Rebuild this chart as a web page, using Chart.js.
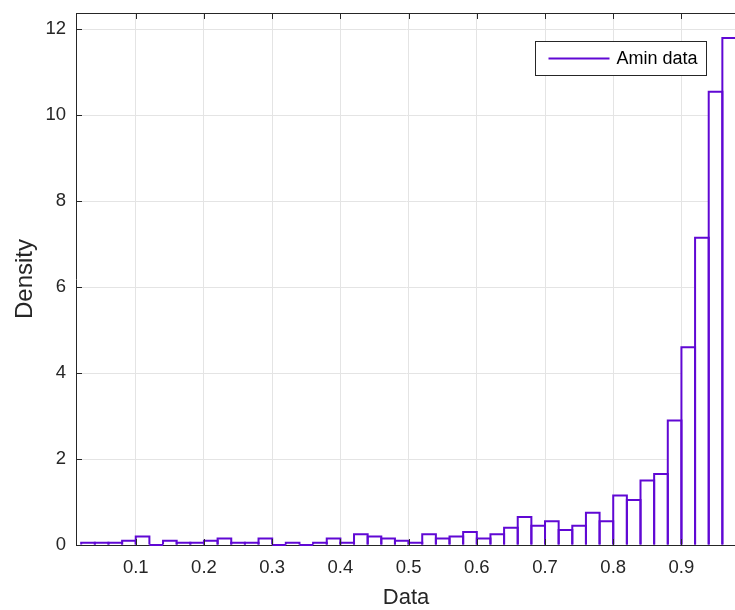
<!DOCTYPE html>
<html><head><meta charset="utf-8">
<script src="https://cdn.jsdelivr.net/npm/chart.js@4"></script>
<style>html,body{margin:0;padding:0;overflow:hidden;background:#fff;width:735px;height:610px}</style>
</head><body>
<canvas id="c" width="760" height="610"></canvas>
<script>
// ---- data ----
const binCenters = [0.03,0.05,0.07,0.09,0.11,0.13,0.15,0.17,0.19,0.21,0.23,0.25,0.27,0.29,0.31,0.33,0.35,0.37,0.39,0.41,0.43,0.45,0.47,0.49,0.51,0.53,0.55,0.57,0.59,0.61,0.63,0.65,0.67,0.69,0.71,0.73,0.75,0.77,0.79,0.81,0.83,0.85,0.87,0.89,0.91,0.93,0.95,0.97];
const density = [0.05,0.05,0.05,0.10,0.20,0,0.10,0.05,0.05,0.10,
                 0.15,0.05,0.05,0.15,0,0.05,0,0.05,0.15,0.05,
                 0.25,0.20,0.15,0.10,0.05,0.25,0.15,0.20,0.30,0.15,
                 0.25,0.40,0.65,0.45,0.55,0.35,0.45,0.75,0.55,1.15,
                 1.05,1.50,1.65,2.90,4.60,7.15,10.55,11.80];
const xTickValues = [0.1,0.2,0.3,0.4,0.5,0.6,0.7,0.8,0.9];
const yTickValues = [0,2,4,6,8,10,12];
const seriesLabel = 'Amin data';
const xTitle = 'Data';
const yTitle = 'Density';
const xMin = 0.0124, xMax = 0.98, yMin = 0, yMax = 12.38;

// ---- style ----
const barColor = 'rgb(96,8,212)';
const axisColor = '#262626';
const gridColor = '#e4e4e4';
const FONT = "'Liberation Sans', Arial, sans-serif";

// MATLAB-style histogram outlines, stroked along each bar element's edges
const outlinePlugin = {
  id: 'outline',
  afterDatasetsDraw(chart) {
    const {ctx, chartArea: a} = chart;
    const meta = chart.getDatasetMeta(0);
    ctx.save();
    ctx.beginPath();
    ctx.rect(a.left, a.top, a.right - a.left, a.bottom - a.top + 1);
    ctx.clip();
    ctx.strokeStyle = chart.data.datasets[0].borderColor;
    ctx.lineWidth = 2;
    ctx.lineJoin = 'miter';
    meta.data.forEach(el => {
      const {x, y, base, width} = el.getProps(['x', 'y', 'base', 'width'], true);
      const l = x - width / 2, r = x + width / 2;
      ctx.beginPath();
      ctx.moveTo(l, base);
      ctx.lineTo(l, y);
      ctx.lineTo(r, y);
      ctx.lineTo(r, base);
      ctx.stroke();
    });
    ctx.restore();
  }
};

const framePlugin = {
  id: 'frame',
  afterDraw(chart) {
    const {ctx, chartArea: a, scales: {x, y}} = chart;
    ctx.save();
    ctx.strokeStyle = axisColor;
    ctx.lineWidth = 1;
    const seg = (x1, y1, x2, y2) => { ctx.beginPath(); ctx.moveTo(x1, y1); ctx.lineTo(x2, y2); ctx.stroke(); };
    const top = Math.round(a.top) + 0.5;
    seg(a.left, top, a.right, top);
    x.ticks.forEach(t => {
      const px = Math.round(x.getPixelForValue(t.value)) + 0.5;
      seg(px, a.bottom, px, a.bottom - 6);
      seg(px, a.top, px, a.top + 6);
    });
    y.ticks.forEach(t => {
      const py = Math.round(y.getPixelForValue(t.value)) + 0.5;
      seg(a.left, py, a.left + 6, py);
    });
    // legend box (inside axes, upper right)
    const ds = chart.data.datasets[0];
    const bx = Math.round(a.right) - 201 + 0.5, by = Math.round(a.top) + 28 + 0.5, bw = 171, bh = 34;
    ctx.fillStyle = '#fff';
    ctx.fillRect(bx, by, bw, bh);
    ctx.strokeStyle = axisColor;
    ctx.strokeRect(bx, by, bw, bh);
    ctx.strokeStyle = ds.borderColor;
    ctx.lineWidth = 2;
    const ly = by + bh / 2;
    seg(bx + 13, ly, bx + 74, ly);
    ctx.fillStyle = '#000';
    ctx.font = "18px " + FONT;
    ctx.textBaseline = 'middle';
    ctx.textAlign = 'left';
    ctx.fillText(ds.label, bx + 81, ly + 1);
    ctx.restore();
  }
};

new Chart(document.getElementById('c'), {
  type: 'bar',
  data: {
    datasets: [{
      label: seriesLabel,
      data: binCenters.map((c, i) => ({x: c, y: density[i]})),
      backgroundColor: '#ffffff',
      borderColor: barColor,
      borderWidth: 0,
      barPercentage: 1,
      categoryPercentage: 1
    }]
  },
  options: {
    responsive: false,
    animation: false,
    devicePixelRatio: 1,
    layout: {padding: {left: 0, top: 13, right: 24, bottom: 0}},
    plugins: {legend: {display: false}, tooltip: {enabled: false}},
    scales: {
      x: {
        type: 'linear',
        position: 'bottom',
        min: xMin, max: xMax,
        offset: false,
        afterBuildTicks: s => { s.ticks = xTickValues.map(v => ({value: v})); },
        afterFit: s => { s.height = 65; s.paddingLeft = 0; s.paddingRight = 0; },
        grid: {color: gridColor, drawTicks: false, offset: false},
        border: {color: axisColor, width: 1},
        ticks: {
          padding: 12,
          color: axisColor,
          font: {family: FONT, size: 18.5},
          maxRotation: 0,
          autoSkip: false,
          callback: v => String(v)
        },
        title: {
          display: true, text: xTitle, color: axisColor,
          font: {family: FONT, size: 22, lineHeight: 1},
          padding: {top: 0, bottom: 1}
        }
      },
      y: {
        type: 'linear',
        position: 'left',
        min: yMin, max: yMax,
        afterBuildTicks: s => { s.ticks = yTickValues.map(v => ({value: v})); },
        afterFit: s => { s.width = 76; s.paddingTop = 0; s.paddingBottom = 0; },
        grid: {color: gridColor, drawTicks: false},
        border: {color: axisColor, width: 1},
        ticks: {
          padding: 10,
          color: axisColor,
          font: {family: FONT, size: 18.5},
          callback: v => String(v)
        },
        title: {
          display: true, text: yTitle, color: axisColor,
          font: {family: FONT, size: 24, lineHeight: 1},
          padding: {top: 13, bottom: 0}
        }
      }
    }
  },
  plugins: [outlinePlugin, framePlugin]
});
</script>
</body></html>
